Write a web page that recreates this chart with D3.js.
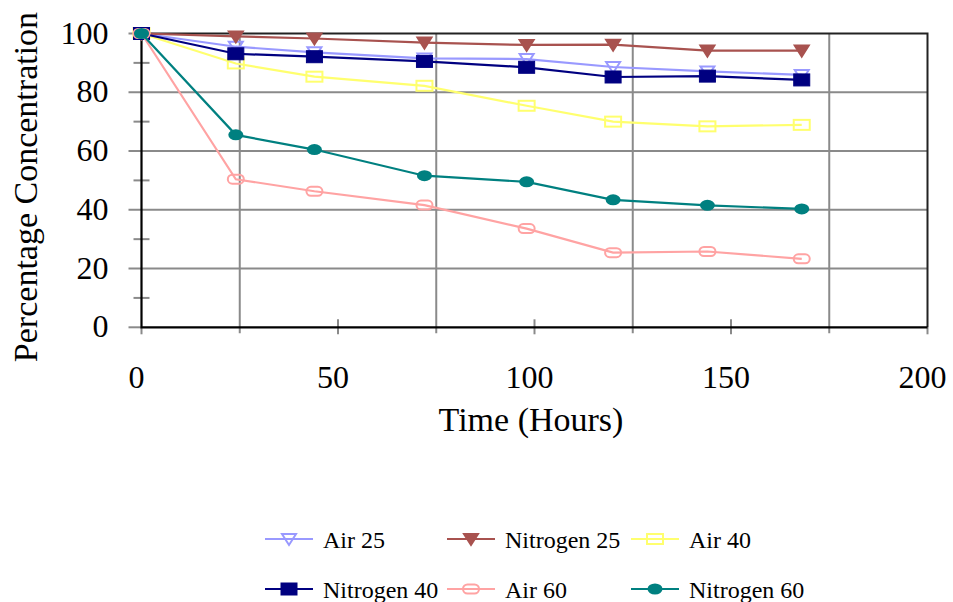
<!DOCTYPE html>
<html>
<head>
<meta charset="utf-8">
<script src="https://cdn.jsdelivr.net/npm/d3@7"></script>
<style>
  html, body { margin: 0; padding: 0; background: #fff; }
  svg text { font-family: "Liberation Serif", "Times New Roman", serif; fill: #000; }
</style>
</head>
<body>
<div id="chart"></div>
<script>
// time points (hours)
const hours = [0, 24, 44, 72, 98, 120, 144, 168];

// percentage concentration per series
const air25 = [100, 95.5, 93.6, 91.5, 91.3, 88.6, 87.1, 85.9];
const nitrogen25 = [100, 99.0, 98.3, 96.9, 96.1, 96.2, 94.2, 94.2];
const air40 = [100, 89.8, 85.3, 82.2, 75.4, 70.0, 68.4, 68.9];
const nitrogen40 = [100, 93.1, 92.1, 90.5, 88.5, 85.2, 85.5, 84.2];
const air60 = [100, 50.4, 46.3, 41.6, 33.6, 25.4, 25.8, 23.3];
const nitrogen60 = [100, 65.5, 60.5, 51.6, 49.5, 43.4, 41.5, 40.3];

const seriesNames = ['Air 25', 'Nitrogen 25', 'Air 40', 'Nitrogen 40', 'Air 60', 'Nitrogen 60'];
const xTicks = [0, 50, 100, 150, 200];
const yTicks = [0, 20, 40, 60, 80, 100];

const width = 953, height = 602;
const margin = {top: 33.5, right: 25.5, bottom: 274.7, left: 141.5};

const series = [
  {name: seriesNames[0], values: air25, color: '#9999ff', marker: 'triOpen'},
  {name: seriesNames[1], values: nitrogen25, color: '#a8524f', marker: 'tri'},
  {name: seriesNames[2], values: air40, color: '#ffff6e', marker: 'squareOpen'},
  {name: seriesNames[3], values: nitrogen40, color: '#000080', marker: 'square'},
  {name: seriesNames[4], values: air60, color: '#ffa3a3', marker: 'pill'},
  {name: seriesNames[5], values: nitrogen60, color: '#008080', marker: 'dot'}
];

const svg = d3.select('#chart').append('svg')
    .attr('width', width)
    .attr('height', height);

const x = d3.scaleLinear().domain([0, 200]).range([margin.left, width - margin.right]);
const y = d3.scaleLinear().domain([0, 100]).range([height - margin.bottom, margin.top]);

const grid = '#8a8a8a';
const x0 = x(0), x1 = x(200), y0 = y(0), y1 = y(100);

// horizontal gridlines (extend left as major ticks)
svg.append('g').selectAll('line')
  .data(yTicks.filter(d => d > 0 && d < 100))
  .enter().append('line')
    .attr('x1', x0 - 13).attr('x2', x1)
    .attr('y1', d => y(d)).attr('y2', d => y(d))
    .attr('stroke', grid).attr('stroke-width', 2);

// vertical gridlines at 25, 75, 125, 175
svg.append('g').selectAll('line')
  .data([25, 75, 125, 175])
  .enter().append('line')
    .attr('x1', d => x(d)).attr('x2', d => x(d))
    .attr('y1', y1).attr('y2', y0 + 6)
    .attr('stroke', grid).attr('stroke-width', 2);

// y axis ticks
svg.append('g').selectAll('line')
  .data([0, 100])
  .enter().append('line')
    .attr('x1', x0 - 13).attr('x2', x0)
    .attr('y1', d => y(d)).attr('y2', d => y(d))
    .attr('stroke', grid).attr('stroke-width', 2);
svg.append('g').selectAll('line')
  .data([10, 30, 50, 70, 90])
  .enter().append('line')
    .attr('x1', x0 - 8).attr('x2', x0 + 8)
    .attr('y1', d => y(d)).attr('y2', d => y(d))
    .attr('stroke', grid).attr('stroke-width', 2);

// x axis ticks
svg.append('g').selectAll('line')
  .data([50, 100, 150])
  .enter().append('line')
    .attr('x1', d => x(d)).attr('x2', d => x(d))
    .attr('y1', y0 - 8).attr('y2', y0 + 7)
    .attr('stroke', grid).attr('stroke-width', 2);
svg.append('g').selectAll('line')
  .data([0, 200])
  .enter().append('line')
    .attr('x1', d => x(d)).attr('x2', d => x(d))
    .attr('y1', y0).attr('y2', y0 + 7)
    .attr('stroke', grid).attr('stroke-width', 2);

// plot frame
svg.append('path')
  .attr('d', `M${x0},${y1}H${x1}V${y0}`)
  .attr('fill', 'none').attr('stroke', '#222').attr('stroke-width', 2);
svg.append('path')
  .attr('d', `M${x0},${y1}V${y0}H${x1}`)
  .attr('fill', 'none').attr('stroke', '#000').attr('stroke-width', 2.2);

// tick labels
svg.append('g').selectAll('text')
  .data(yTicks)
  .enter().append('text')
    .attr('x', x0 - 33)
    .attr('y', d => y(d) + 10)
    .attr('text-anchor', 'end')
    .attr('font-size', 32)
    .text(d => d);

svg.append('g').selectAll('text')
  .data(xTicks)
  .enter().append('text')
    .attr('x', d => x(d) - 5)
    .attr('y', y0 + 61)
    .attr('text-anchor', 'middle')
    .attr('font-size', 32)
    .text(d => d);

// axis titles
svg.append('text')
  .attr('x', 531).attr('y', 431)
  .attr('text-anchor', 'middle')
  .attr('font-size', 34)
  .text('Time (Hours)');

svg.append('text')
  .attr('transform', 'translate(37,187) rotate(-90)')
  .attr('text-anchor', 'middle')
  .attr('font-size', 34)
  .text('Percentage Concentration');

// marker drawing
function drawMarker(sel, type, color) {
  if (type === 'tri' || type === 'triOpen') {
    sel.append('path')
      .attr('d', 'M-7,-5L7,-5L0,6Z')
      .attr('fill', type === 'tri' ? color : 'none')
      .attr('stroke', color).attr('stroke-width', 2);
  } else if (type === 'square') {
    sel.append('rect')
      .attr('x', -8).attr('y', -6).attr('width', 16).attr('height', 12)
      .attr('fill', color).attr('stroke', color).attr('stroke-width', 1);
  } else if (type === 'squareOpen') {
    sel.append('rect')
      .attr('x', -8).attr('y', -5).attr('width', 16).attr('height', 10)
      .attr('fill', 'none').attr('stroke', color).attr('stroke-width', 2);
  } else if (type === 'pill') {
    sel.append('rect')
      .attr('x', -8).attr('y', -4.5).attr('width', 16).attr('height', 9).attr('rx', 4.5)
      .attr('fill', 'none').attr('stroke', color).attr('stroke-width', 2);
  } else {
    sel.append('ellipse')
      .attr('rx', 7.5).attr('ry', 5.5)
      .attr('fill', color);
  }
}

const line = d3.line()
  .x((d, i) => x(hours[i]))
  .y(d => y(d));

series.forEach(s => {
  const g = svg.append('g');
  g.append('path')
    .attr('d', line(s.values))
    .attr('fill', 'none')
    .attr('stroke', s.color)
    .attr('stroke-width', 2.2);
  g.selectAll('g.pt')
    .data(s.values)
    .enter().append('g')
      .attr('class', 'pt')
      .attr('transform', (d, i) => 'translate(' + x(hours[i]) + ',' + y(d) + ')')
      .each(function() { drawMarker(d3.select(this), s.marker, s.color); });
});

// legend
const legendCols = [265, 447, 631];
const legendRows = [539, 589];
const legend = svg.append('g');
series.forEach((s, i) => {
  const lx = legendCols[i % 3], ly = legendRows[Math.floor(i / 3)];
  const item = legend.append('g');
  item.append('line')
    .attr('x1', lx).attr('x2', lx + 48)
    .attr('y1', ly).attr('y2', ly)
    .attr('stroke', s.color).attr('stroke-width', 2.2);
  const m = item.append('g').attr('transform', 'translate(' + (lx + 24) + ',' + ly + ')');
  drawMarker(m, s.marker, s.color);
  item.append('text')
    .attr('x', lx + 58)
    .attr('y', ly + 8.5)
    .attr('font-size', 24)
    .text(s.name);
});
</script>
</body>
</html>
